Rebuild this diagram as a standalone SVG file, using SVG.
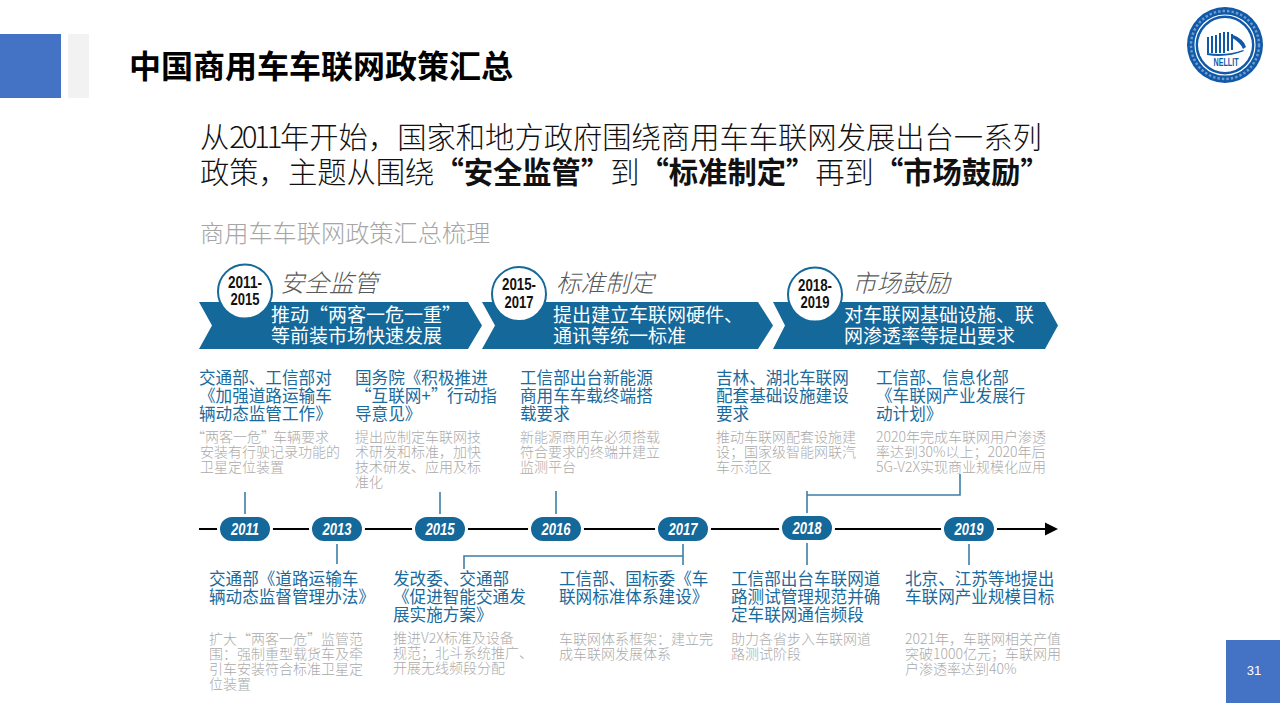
<svg xmlns="http://www.w3.org/2000/svg" width="1280" height="720" viewBox="0 0 1280 720">
<style>
text{font-family:"Noto Sans CJK SC","Liberation Sans",sans-serif}
.title{font-size:32px;font-weight:700;fill:#000}
.sub{font-size:29.3px;font-weight:300;fill:#111}
.sub .b{font-weight:700}
.sec{font-size:24.2px;font-weight:300;fill:#a6a6a6}
.stage{font-size:24.5px;font-weight:300;font-style:italic;fill:#595959}
.ban{font-size:19px;fill:#fff}
.h{font-size:16.6px;fill:#1a6a9b}
.g{font-size:14px;font-weight:300;fill:#aaa}
.yr{font-family:"Liberation Sans",sans-serif;font-size:16.5px;font-weight:700;font-style:italic;fill:#fff;text-anchor:middle}
.per{font-family:"Liberation Sans",sans-serif;font-size:16.5px;font-weight:700;fill:#111;text-anchor:middle}
.lat{font-family:"Liberation Sans",sans-serif}
.pill{fill:#14689a;stroke:#fff;stroke-width:3}
.band{fill:#14689a}
.circ{fill:#fff;stroke:#14689a;stroke-width:2}
.lk{fill:none;stroke:#3d7fa6;stroke-width:1.6}
</style>
<g id="header">
<rect x="0" y="34" width="61" height="64" fill="#4472c4"/>
<rect x="68" y="34" width="21" height="64" fill="#f2f2f2"/>
<text class="title" x="129" y="78">中国商用车车联网政策汇总</text>
</g>
<g id="logo">
<circle cx="1225" cy="45" r="38" fill="#0f59a8"/>
<circle cx="1225" cy="45" r="34" fill="none" stroke="#fff" stroke-width="2.500" stroke-dasharray="2.500 2" opacity=".4"/>
<circle cx="1225" cy="45" r="30" fill="none" stroke="#fff" stroke-width="1.200"/>
<circle cx="1225" cy="45" r="27" fill="#fff"/>
<path d="M1207 37h2v16h-2zM1211 36h2v17h-2zM1215 35h2v18h-2zM1219 33h2v20h-2zM1223 32h2v21h-2zM1227 32h2v19h-2zM1231 34h2v16h-2z" fill="#0f59a8"/>
<path d="M1231 34q13 5 15 13l-3 2q-2-6-12-12zM1207 53q20 3 36-3l1 1q-17 7-37 4z" fill="#0f59a8"/>
<text class="lat" x="1226" y="66" font-size="11.500" text-anchor="middle" fill="#0f59a8" font-weight="700" textLength="25" lengthAdjust="spacingAndGlyphs">NELLIT</text>
</g>
<g id="intro">
<text class="sub"><tspan x="200 229.300 241.800 254.300 266.800 280" y="148">从2011年开始，国家和地方政府围绕商用车车联网发展出台一系列</tspan><tspan x="200" y="183">政策，主题从围绕</tspan><tspan class="b" x="434.400 463.700 493 522.300 551.600 581">“安全监管”</tspan><tspan x="610.200">到</tspan><tspan class="b" x="639.500 668.800 698.100 727.400 756.700 786">“标准制定”</tspan><tspan x="815.300">再到</tspan><tspan class="b" x="873.900 903.200 932.500 961.800 991.100 1020.400">“市场鼓励”</tspan></text>
<text class="sec" x="200" y="242">商用车车联网政策汇总梳理</text>
</g>
<g id="stage1">
<path class="band" d="M199 302H468L482 325.500 468 349H199L212 325.500Z"/>
<circle class="circ" cx="245" cy="291.500" r="27"/>
<text class="per"><tspan x="245" y="288" textLength="34" lengthAdjust="spacingAndGlyphs">2011-</tspan><tspan x="245" y="305" textLength="29" lengthAdjust="spacingAndGlyphs">2015</tspan></text>
<text class="stage" x="280" y="292">安全监管</text>
<text class="ban"><tspan x="271 290 309 328 347 366 385 404 423 442" y="322">推动“两客一危一重”</tspan><tspan x="271" y="343">等前装市场快速发展</tspan></text>
</g>
<g id="stage2">
<path class="band" d="M482 302H758L773 325.500 758 349H482L495 325.500Z"/>
<circle class="circ" cx="519" cy="294" r="27"/>
<text class="per"><tspan x="519" y="290" textLength="34" lengthAdjust="spacingAndGlyphs">2015-</tspan><tspan x="519" y="308" textLength="29" lengthAdjust="spacingAndGlyphs">2017</tspan></text>
<text class="stage" x="556" y="292">标准制定</text>
<text class="ban"><tspan x="553" y="322">提出建立车联网硬件、</tspan><tspan x="553" y="343">通讯等统一标准</tspan></text>
</g>
<g id="stage3">
<path class="band" d="M773 302H1045L1058 325.500 1045 349H773L785 325.500Z"/>
<circle class="circ" cx="815" cy="294.500" r="27"/>
<text class="per"><tspan x="815" y="291" textLength="34" lengthAdjust="spacingAndGlyphs">2018-</tspan><tspan x="815" y="308" textLength="29" lengthAdjust="spacingAndGlyphs">2019</tspan></text>
<text class="stage" x="852" y="292">市场鼓励</text>
<text class="ban"><tspan x="844" y="322">对车联网基础设施、联</tspan><tspan x="844" y="343">网渗透率等提出要求</tspan></text>
</g>
<g id="connectors">
<path d="M199 529H1046" stroke="#000" stroke-width="2" fill="none"/>
<path d="M1058 529L1045 522.500V535.500Z" fill="#000"/>
<path class="lk" d="M245 492V517M337 541V564M440 492V516M556 491V515M683 541V565M464 569V556H683M807 516V491M807 495H960V474M807 541V565M969 541V565"/>
</g>
<g id="years">
<rect class="pill" x="218.500" y="515.500" width="53" height="27" rx="13.500"/><text class="yr" x="245" y="535" textLength="28" lengthAdjust="spacingAndGlyphs">2011</text>
<rect class="pill" x="310.500" y="515.500" width="53" height="27" rx="13.500"/><text class="yr" x="337" y="535" textLength="29" lengthAdjust="spacingAndGlyphs">2013</text>
<rect class="pill" x="413.500" y="515.500" width="53" height="27" rx="13.500"/><text class="yr" x="440" y="535" textLength="29" lengthAdjust="spacingAndGlyphs">2015</text>
<rect class="pill" x="529.500" y="515.500" width="53" height="27" rx="13.500"/><text class="yr" x="556" y="535" textLength="29" lengthAdjust="spacingAndGlyphs">2016</text>
<rect class="pill" x="656.500" y="515.500" width="53" height="27" rx="13.500"/><text class="yr" x="683" y="535" textLength="29" lengthAdjust="spacingAndGlyphs">2017</text>
<rect class="pill" x="780.500" y="514.500" width="53" height="27" rx="13.500"/><text class="yr" x="807" y="534" textLength="29" lengthAdjust="spacingAndGlyphs">2018</text>
<rect class="pill" x="942.500" y="515.500" width="53" height="27" rx="13.500"/><text class="yr" x="969" y="535" textLength="29" lengthAdjust="spacingAndGlyphs">2019</text>
</g>
<g id="top-items">
<text class="h"><tspan x="199" y="384">交通部、工信部对</tspan><tspan x="199" y="402">《加强道路运输车</tspan><tspan x="199" y="420">辆动态监管工作》</tspan></text>
<text class="g"><tspan x="191 205 219 233 247 261 273 287 301 315" y="442">“两客一危”车辆要求</tspan><tspan x="200" y="457">安装有行驶记录功能的</tspan><tspan x="200" y="472">卫星定位装置</tspan></text>
<text class="h"><tspan x="355" y="384">国务院《积极推进</tspan><tspan x="355 371.600 388.200 404.800 421.400 431 447 463.600 480.200" y="402">“互联网+”行动指</tspan><tspan x="355" y="420">导意见》</tspan></text>
<text class="g"><tspan x="355" y="442">提出应制定车联网技</tspan><tspan x="355" y="457">术研发和标准，加快</tspan><tspan x="355" y="472">技术研发、应用及标</tspan><tspan x="355" y="487">准化</tspan></text>
<text class="h"><tspan x="520" y="384">工信部出台新能源</tspan><tspan x="520" y="402">商用车车载终端搭</tspan><tspan x="520" y="420">载要求</tspan></text>
<text class="g"><tspan x="520" y="442">新能源商用车必须搭载</tspan><tspan x="520" y="457">符合要求的终端并建立</tspan><tspan x="520" y="472">监测平台</tspan></text>
<text class="h"><tspan x="716" y="384">吉林、湖北车联网</tspan><tspan x="716" y="402">配套基础设施建设</tspan><tspan x="716" y="420">要求</tspan></text>
<text class="g"><tspan x="716" y="442">推动车联网配套设施建</tspan><tspan x="716" y="457">设；国家级智能网联汽</tspan><tspan x="716" y="472">车示范区</tspan></text>
<text class="h"><tspan x="876" y="384">工信部、信息化部</tspan><tspan x="876" y="402">《车联网产业发展行</tspan><tspan x="876" y="420">动计划》</tspan></text>
<text class="g"><tspan x="876" y="442">2020年完成车联网用户渗透</tspan><tspan x="876" y="457">率达到30%以上；2020年后</tspan><tspan x="876" y="472">5G-V2X实现商业规模化应用</tspan></text>
</g>
<g id="bottom-items">
<text class="h"><tspan x="209" y="585">交通部《道路运输车</tspan><tspan x="209" y="603">辆动态监督管理办法》</tspan></text>
<text class="g"><tspan x="209 223 237 251 265 279 293 307 321 335 349" y="644">扩大“两客一危”监管范</tspan><tspan x="209" y="659">围：强制重型载货车及牵</tspan><tspan x="209" y="674">引车安装符合标准卫星定</tspan><tspan x="209" y="689">位装置</tspan></text>
<text class="h"><tspan x="393" y="585">发改委、交通部</tspan><tspan x="393" y="603">《促进智能交通发</tspan><tspan x="393" y="621">展实施方案》</tspan></text>
<text class="g"><tspan x="393" y="643">推进V2X标准及设备</tspan><tspan x="393" y="658">规范；北斗系统推广、</tspan><tspan x="393" y="673">开展无线频段分配</tspan></text>
<text class="h"><tspan x="559" y="585">工信部、国标委《车</tspan><tspan x="559" y="603">联网标准体系建设》</tspan></text>
<text class="g"><tspan x="559" y="644">车联网体系框架：建立完</tspan><tspan x="559" y="659">成车联网发展体系</tspan></text>
<text class="h"><tspan x="731" y="585">工信部出台车联网道</tspan><tspan x="731" y="603">路测试管理规范并确</tspan><tspan x="731" y="621">定车联网通信频段</tspan></text>
<text class="g"><tspan x="731" y="644">助力各省步入车联网道</tspan><tspan x="731" y="659">路测试阶段</tspan></text>
<text class="h"><tspan x="905" y="585">北京、江苏等地提出</tspan><tspan x="905" y="603">车联网产业规模目标</tspan></text>
<text class="g"><tspan x="905" y="644">2021年，车联网相关产值</tspan><tspan x="905" y="659">突破1000亿元；车联网用</tspan><tspan x="905" y="674">户渗透率达到40%</tspan></text>
</g>
<g id="page">
<rect x="1226" y="640" width="54" height="63" fill="#4472c4"/>
<text class="lat" x="1254" y="675" font-size="13" fill="#fff" text-anchor="middle">31</text>
</g>
</svg>
